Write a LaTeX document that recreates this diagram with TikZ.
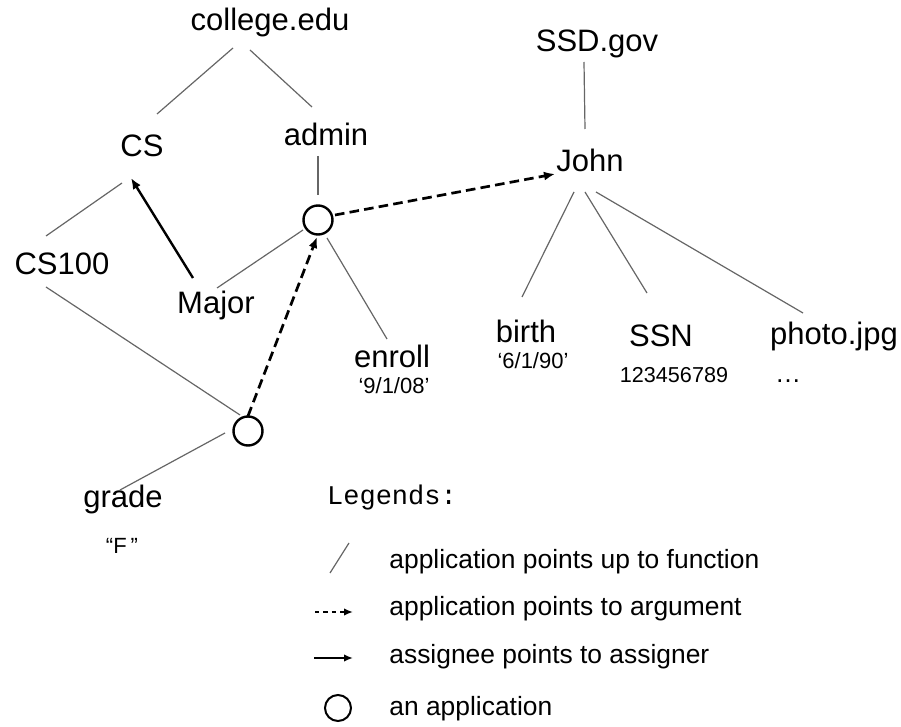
\documentclass[tikz,border=0pt]{standalone}
\usepackage{fontspec}
\setmainfont{Liberation Sans}
\setmonofont{Liberation Mono}
\usetikzlibrary{arrows.meta}

\tikzset{
  lbl/.style={anchor=base, inner sep=0pt, font=\fontsize{15.5}{18}\selectfont},
  val/.style={anchor=base, inner sep=0pt, font=\fontsize{11}{12}\selectfont},
  num/.style={anchor=base, inner sep=0pt, font=\fontsize{10.8}{12}\selectfont},
  app/.style={circle, draw, line width=1.2pt, minimum size=14.5pt, inner sep=0pt},
  fn/.style={draw=black!60, line width=0.6pt},
  tipA/.style={-{Latex[length=5.5pt,width=4.5pt]}},
  arg/.style={line width=1.35pt, dash pattern=on 4.8pt off 2.6pt, tipA},
  asg/.style={line width=1.2pt, tipA},
  legtext/.style={anchor=base west, inner sep=0pt, font=\fontsize{13.2}{15}\selectfont},
}

\begin{document}
\begin{tikzpicture}[x=0.5pt,y=-0.5pt]
\useasboundingbox (0,0) rectangle (901,727);

% names
\node[lbl] (college) at (270,31)  {college.edu};
\node[lbl] (cs)      at (142,157) {CS};
\node[lbl] (admin)   at (326,146) {admin};
\node[lbl] (cs100)   at (62,275)  {CS100};
\node[lbl] (major)   at (216,314) {Major};
\node[lbl] (enroll)  at (392,368) {enroll};
\node[val] (enrollv) at (394,394) {‘9/1/08’};
\node[lbl] (grade)   at (123,508) {grade};
\node[anchor=base, inner sep=0pt, font=\fontsize{11}{12}\selectfont] (gradev) at (122,553) {“F\hspace{2pt}”};

\node[lbl] (ssd)     at (597,52)  {SSD.gov};
\node[lbl] (john)    at (590,172) {John};
\node[lbl] (birth)   at (526,343) {birth};
\node[val] (birthv)  at (533,369) {‘6/1/90’};
\node[lbl] (ssn)     at (661,347) {SSN};
\node[num] (ssnv)    at (674,383) {123456789};
\node[lbl] (photo)   at (834,345) {photo.jpg};
\node[anchor=base, inner sep=0pt, font=\fontsize{13}{14}\selectfont] (photov) at (788,383) {…};

% applications
\node[app] (A) at (318,220) {};
\node[app] (B) at (248,431) {};

% application points up to function
\draw[fn] ([shift={(-37,17)}]college.base) -- ([shift={(15,-43)}]cs.base);
\draw[fn] ([shift={(-20,19)}]college.base) -- ([shift={(-14,-39)}]admin.base);
\draw[fn] ([shift={(-8,10)}]admin.base) -- ([shift={(0,-25)}]A.center);
\draw[fn] ([shift={(-20,26)}]cs.base) -- ([shift={(-16,-39)}]cs100.base);
\draw[fn] ([shift={(-16,12)}]cs100.base) -- ([shift={(-8,-16)}]B.center);
\draw[fn] ([shift={(1,-26)}]major.base) -- ([shift={(-15,10)}]A.center);
\draw[fn] ([shift={(9,18)}]A.center) -- ([shift={(-5,-29)}]enroll.base);
\draw[fn] ([shift={(-23,2)}]B.center) -- ([shift={(-3,-18)}]grade.base);
\draw[fn] ([shift={(-13,10)}]ssd.base) -- ([shift={(-5,-43)}]john.base);
\draw[fn] ([shift={(-16,20)}]john.base) -- ([shift={(-4,-46)}]birth.base);
\draw[fn] ([shift={(-5,20)}]john.base) -- ([shift={(-14,-54)}]ssn.base);
\draw[fn] ([shift={(6,20)}]john.base) -- ([shift={(-31,-32)}]photo.base);

% assignee points to assigner
\draw[asg] ([shift={(-23,-36)}]major.base) -- ([shift={(-11,21)}]cs.base);

% application points to argument
\draw[arg] ([shift={(0,-15)}]B.center) -- ([shift={(-1,17)}]A.center);
\draw[arg] ([shift={(17,-5)}]A.center) -- ([shift={(-35,2)}]john.base);

% legend
\node[anchor=base, inner sep=0pt, font=\fontsize{13.5}{15}\selectfont\ttfamily] (leghead) at (392,505) {Legends:};

\coordinate (s1) at (330,573);
\coordinate (s2) at (349,543);
\draw[fn] (s1) -- (s2);
\node[legtext] (l1) at (389,568) {application points up to function};

\coordinate (d1) at (315,612);
\coordinate (d2) at (353,612);
\draw[line width=0.9pt, dash pattern=on 2.2pt off 2pt, -{Latex[length=4.5pt,width=3.8pt]}] (d1) -- (d2);
\node[legtext] (l2) at (389,616) {application points to argument};

\coordinate (a1) at (314,658);
\coordinate (a2) at (353,658);
\draw[line width=0.9pt, -{Latex[length=4.5pt,width=3.8pt]}] (a1) -- (a2);
\node[legtext] (l3) at (389,663) {assignee points to assigner};

\node[app, line width=1pt, minimum size=13pt] (lc) at (338,708) {};
\node[legtext] (l4) at (389,715) {an application};
\end{tikzpicture}
\end{document}
